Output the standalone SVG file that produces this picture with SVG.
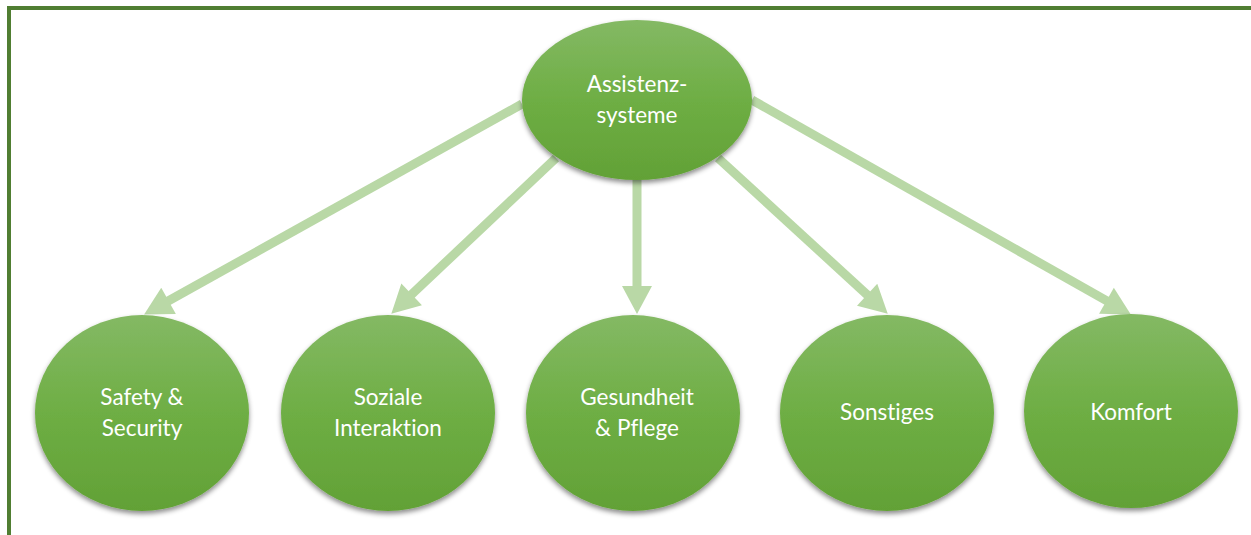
<svg xmlns="http://www.w3.org/2000/svg" width="1251" height="535" viewBox="0 0 1251 535">
  <style>
    .node { fill: url(#nodeFill); filter: url(#shadow); }
    .label { font-family: Lato, "Open Sans", "Liberation Sans", sans-serif; font-size: 22.5px; fill: #ffffff; text-anchor: middle; font-variant-ligatures: none; }
    .link { stroke: #b9d8a6; stroke-width: 9; fill: none; marker-end: url(#head); }
  </style>
  <defs>
    <linearGradient id="nodeFill" x1="0" y1="0" x2="0" y2="1">
      <stop offset="0" stop-color="#84b964"/>
      <stop offset="0.5" stop-color="#6eae44"/>
      <stop offset="1" stop-color="#62a136"/>
    </linearGradient>
    <filter id="shadow" x="-20%" y="-20%" width="140%" height="140%">
      <feDropShadow dx="0" dy="3" stdDeviation="2.5" flood-color="#000000" flood-opacity="0.45"/>
    </filter>
    <marker id="head" markerUnits="userSpaceOnUse" markerWidth="30" markerHeight="30" viewBox="0 0 28 30" refX="2" refY="15" orient="auto">
      <path d="M0,0 L28,15 L0,30 Z" fill="#b9d8a6"/>
    </marker>
  </defs>

  <!-- frame -->
  <rect x="9" y="8" width="1244" height="540" fill="#ffffff" stroke="#507e32" stroke-width="4"/>

  <!-- connectors -->
  <g id="connectors">
    <line class="link" x1="522" y1="104" x2="166.8" y2="301.8"/>
    <line class="link" x1="556" y1="158" x2="410.2" y2="295.8"/>
    <line class="link" x1="637" y1="178" x2="637" y2="288"/>
    <line class="link" x1="718" y1="158" x2="868.6" y2="296.1"/>
    <line class="link" x1="752" y1="100" x2="1108.2" y2="301.7"/>
  </g>

  <g id="root">
    <ellipse class="node" cx="637" cy="100" rx="115" ry="80"/>
    <text class="label" x="637" y="92">Assistenz-</text>
    <text class="label" x="637" y="123">systeme</text>
  </g>

  <g id="safety">
    <ellipse class="node" cx="142" cy="413" rx="107" ry="98"/>
    <text class="label" x="142" y="405">Safety &amp;</text>
    <text class="label" x="142" y="436">Security</text>
  </g>

  <g id="soziale">
    <ellipse class="node" cx="388" cy="413" rx="107" ry="98"/>
    <text class="label" x="388" y="405">Soziale</text>
    <text class="label" x="388" y="436">Interaktion</text>
  </g>

  <g id="gesundheit">
    <ellipse class="node" cx="633" cy="413" rx="107" ry="98"/>
    <text class="label" x="637" y="405">Gesundheit</text>
    <text class="label" x="637" y="436">&amp; Pflege</text>
  </g>

  <g id="sonstiges">
    <ellipse class="node" cx="887" cy="413" rx="107" ry="98"/>
    <text class="label" x="887" y="420">Sonstiges</text>
  </g>

  <g id="komfort">
    <ellipse class="node" cx="1131" cy="411" rx="107" ry="97"/>
    <text class="label" x="1131" y="420">Komfort</text>
  </g>
</svg>
